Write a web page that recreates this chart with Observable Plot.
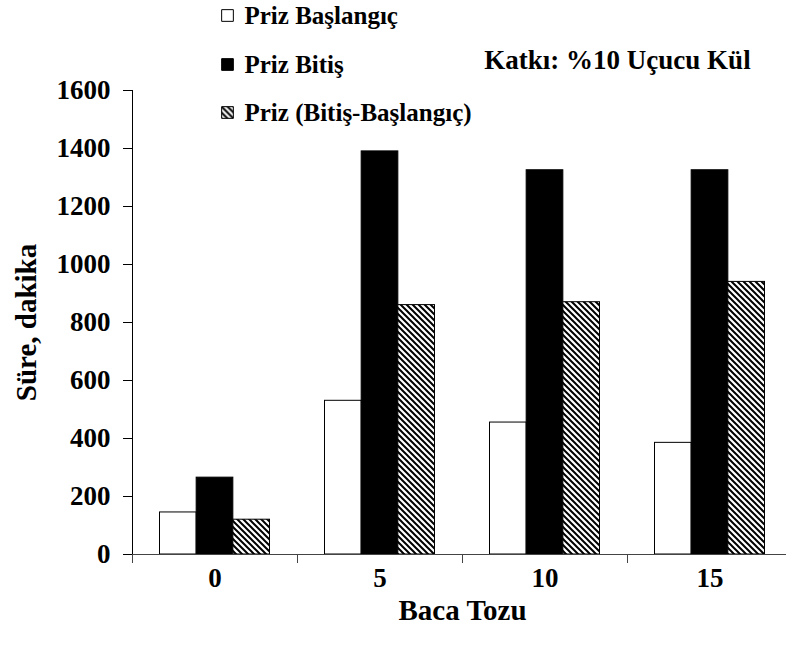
<!DOCTYPE html>
<html><head><meta charset="utf-8">
<script src="https://cdn.jsdelivr.net/npm/d3@7"></script>
<script src="https://cdn.jsdelivr.net/npm/@observablehq/plot@0.6"></script>
<style>body{margin:0;background:#fff}</style>
</head><body><div id="chart"></div>
<script>
const categories = ["0", "5", "10", "15"];
const seriesNames = ["Priz Başlangıç", "Priz Bitiş", "Priz (Bitiş-Başlangıç)"];
const baslangic = [145, 530, 455, 385];
const bitis = [265, 1390, 1325, 1325];
const fark = [120, 860, 870, 940];
const yTicks = [0, 200, 400, 600, 800, 1000, 1200, 1400, 1600];
const xTitle = "Baca Tozu";
const yTitle = "Süre, dakika";
const note = "Katkı: %10 Uçucu Kül";

const seriesValues = [baslangic, bitis, fark];
const fills = ["white", "black", "url(#hatch)"];
const font = "'Liberation Serif', 'Times New Roman', serif";

const W = 786, H = 654, mL = 132, mT = 90, mB = 100, mR = -6;
const step = (W - mR - mL) / categories.length; // band width
const pad = step / 6;           // outer gap on each side of a group
const bw = (step - 2 * pad) / 3; // bar width

const marks = [];
seriesValues.forEach((vals, s) => {
  const rows = categories.map((c, i) => ({cat: c, value: vals[i], series: seriesNames[s]}));
  marks.push(Plot.barY(rows, {
    x: "cat", y: "value",
    fill: fills[s], stroke: "black", strokeWidth: 1,
    insetLeft: pad + s * bw,
    insetRight: step - pad - (s + 1) * bw
  }));
});

marks.push(
  Plot.frame({anchor: "left", stroke: "black"}),
  Plot.ruleY([0], {insetLeft: -9, stroke: "#444"}),
  Plot.ruleX(categories, {x: d => d, dx: -step / 2, y1: 0, insetBottom: -9, stroke: "#444"}),
  Plot.axisY({ticks: yTicks, tickFormat: d3.format("d"), tickSize: 9, tickPadding: 13, fontSize: 27, fontWeight: "bold", label: null, stroke: "black"}),
  Plot.axisX({tickSize: 0, tickPadding: 13, fontSize: 27, fontWeight: "bold", label: null}),
  Plot.text([xTitle], {frameAnchor: "bottom", dy: 65, fontSize: 29, fontWeight: "bold"}),
  Plot.text([yTitle], {frameAnchor: "left", dx: -106, rotate: -90, textAnchor: "middle", lineAnchor: "middle", fontSize: 29, fontWeight: "bold"}),
  Plot.text([note], {frameAnchor: "top-left", dx: 617 - mL, dy: 60 - mT, textAnchor: "middle", lineAnchor: "middle", fontSize: 27, fontWeight: "bold"})
);

const legendY = [15, 64, 112];
seriesNames.forEach((name, s) => {
  marks.push(
    Plot.dot([name], {frameAnchor: "top-left", dx: 227 - mL, dy: legendY[s] - mT, symbol: "square", r: 6.6, fill: fills[s], stroke: "black", strokeWidth: 1}),
    Plot.text([name], {frameAnchor: "top-left", dx: 244 - mL, dy: legendY[s] - mT, textAnchor: "start", lineAnchor: "middle", fontSize: 25, fontWeight: "bold"})
  );
});

const chart = Plot.plot({
  width: W, height: H,
  marginLeft: mL, marginTop: mT, marginBottom: mB, marginRight: mR,
  style: {fontFamily: font, color: "black", background: "white", overflow: "visible"},
  x: {domain: categories, padding: 0},
  y: {domain: [0, 1600]},
  marks
});

d3.select(chart).insert("defs", ":first-child").html(
  '<pattern id="hatch" patternUnits="userSpaceOnUse" width="6" height="6">' +
  '<rect width="6" height="6" fill="white"/>' +
  '<path d="M-1,-1L7,7M5,-1L7,1M-1,5L1,7" stroke="black" stroke-width="2"/>' +
  '</pattern>'
);
document.getElementById("chart").appendChild(chart);
</script>
</body></html>
